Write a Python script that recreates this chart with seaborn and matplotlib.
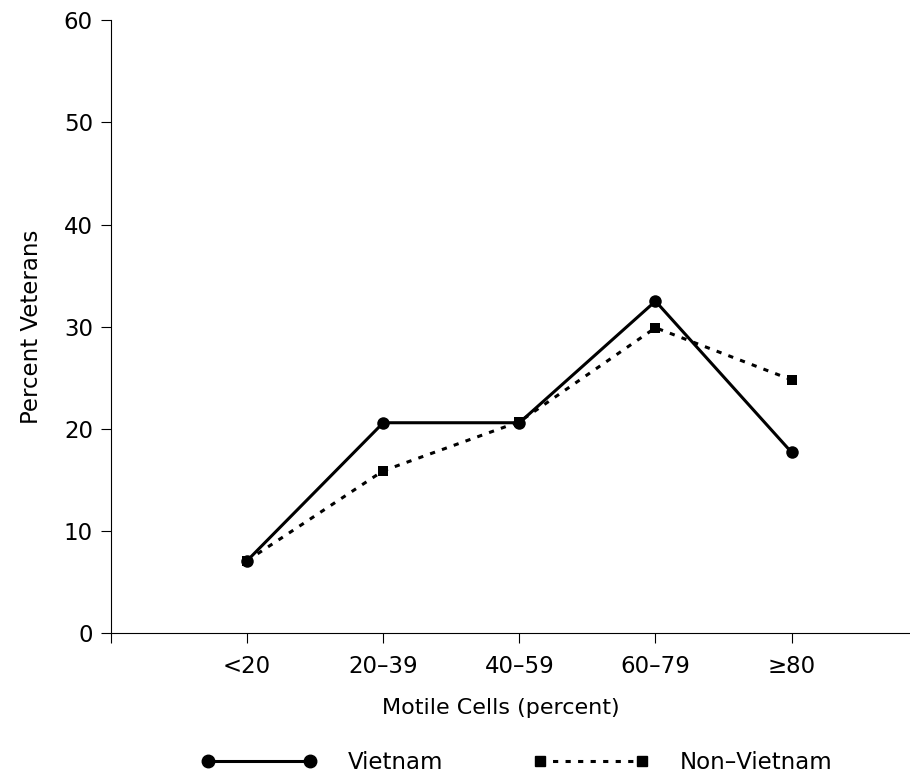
import pandas as pd
import matplotlib.pyplot as plt
import seaborn as sns

# Datos
categorias = ['<20', '20–39', '40–59', '60–79', '≥80']
vietnam = [7.1, 20.6, 20.6, 32.5, 17.7]
no_vietnam = [7.1, 15.9, 20.7, 29.9, 24.8]

posiciones = list(range(1, len(categorias) + 1))
df_v = pd.DataFrame({'x': posiciones, 'y': vietnam})
df_nv = pd.DataFrame({'x': posiciones, 'y': no_vietnam})

sns.set_theme(style="ticks")
plt.rcParams['font.family'] = ['DejaVu Sans']
plt.rcParams['text.color'] = 'black'
plt.rcParams['axes.labelcolor'] = 'black'
plt.rcParams['xtick.color'] = 'black'
plt.rcParams['ytick.color'] = 'black'
plt.rcParams['axes.edgecolor'] = 'black'

fig = plt.figure(figsize=(9.1, 7.76), dpi=100)
ax = fig.add_axes([0.122, 0.184, 0.89, 0.79])

punteado = (0, (1.7, 2.4))

# Non-Vietnam (línea punteada con cuadrados)
sns.lineplot(data=df_nv, x='x', y='y', color='black', linewidth=2.2,
             linestyle=punteado, marker='s', markersize=7.5,
             markeredgewidth=0, ax=ax)
# Vietnam (línea continua con círculos)
sns.lineplot(data=df_v, x='x', y='y', color='black', linewidth=2.2,
             marker='o', markersize=9, markeredgewidth=0, ax=ax)

ax.set_xlim(0, 5.95)
ax.set_ylim(0, 60)
ax.set_xticks([0] + posiciones)
ax.set_xticklabels([''] + categorias, fontsize=16.5)
ax.set_yticks(range(0, 61, 10))
ax.tick_params(axis='y', labelsize=16.5, length=7, width=0.8, pad=6)
ax.tick_params(axis='x', length=7, width=0.8, pad=9)
ax.set_xlabel('Motile Cells (percent)', fontsize=16, labelpad=14, x=0.481)
ax.set_ylabel('Percent Veterans', fontsize=16.5, labelpad=15)
for s in ['top', 'right']:
    ax.spines[s].set_visible(False)
for s in ['left', 'bottom']:
    ax.spines[s].set_linewidth(0.8)

h1, = ax.plot([], [], color='black', lw=2.2, marker='o', ms=9)
h2, = ax.plot([], [], color='black', lw=2.2, ls=punteado, marker='s', ms=6.5)
fig.legend([h1, h2], ['Vietnam', 'Non–Vietnam'], loc='center left',
           bbox_to_anchor=(0.221, 0.018), ncol=2, numpoints=2, frameon=False,
           fontsize=16.5, handlelength=5.06, handletextpad=1.35,
           columnspacing=3.9, borderpad=0, borderaxespad=0)

plt.savefig('out.png', dpi=100)
plt.close()
